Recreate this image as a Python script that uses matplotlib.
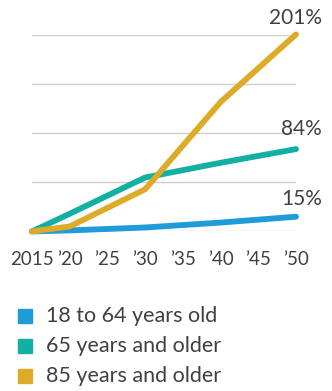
import matplotlib.pyplot as plt
from matplotlib.patches import Rectangle

plt.rcParams['font.family'] = ['Lato', 'DejaVu Sans']

# Percent change in population since 2015
years = [2015, 2020, 2030, 2040, 2050]
age_18_64 = [0, 1, 4, 9, 15]
age_65_up = [0, 18, 55, 70, 84]
age_85_up = [0, 5, 43, 132, 201]

series = [age_18_64, age_65_up, age_85_up]
labels = ["18 to 64 years old", "65 years and older", "85 years and older"]
colors = ["#1f9bd8", "#12b0a3", "#ddab27"]
end_labels = ["15%", "84%", "201%"]

tick_years = [2015, 2020, 2025, 2030, 2035, 2040, 2045, 2050]
tick_labels = ["2015", "\u201920", "\u201925", "\u201930", "\u201935", "\u201940", "\u201945", "\u201950"]
grid_vals = [0, 50, 100, 150, 200]

text_col = "#404040"

fig = plt.figure(figsize=(3.32, 3.91), dpi=100)
ax = fig.add_axes([32 / 332, 159.6 / 391, 264 / 332, 196 / 391])

for g in grid_vals:
    ax.axhline(g, color="#cfcfcf", lw=1, zorder=1)

for vals, c in zip(series, colors):
    ax.plot(years, vals, color=c, lw=4.2, solid_capstyle="round",
            solid_joinstyle="round", clip_on=False, zorder=3)

# offsets in pixels -> points (72/100)
offsets = [(26, 11.7), (26, 13.7), (26, 10.7)]
for vals, txt, off in zip(series, end_labels, offsets):
    ax.annotate(txt, (years[-1], vals[-1]),
                xytext=(off[0] * 0.72, off[1] * 0.72), textcoords="offset points",
                ha="right", va="baseline", fontsize=15, color=text_col,
                annotation_clip=False)

ax.set_xlim(2015, 2050)
ax.set_ylim(0, 200)
ax.set_xticks(tick_years)
ax.set_xticklabels(tick_labels, fontsize=13.5, color=text_col)
ax.tick_params(axis="x", length=0, pad=14)
ax.set_yticks([])
for s in ax.spines.values():
    s.set_visible(False)
ax.patch.set_alpha(0)

# legend drawn by hand
for i, (lab, c) in enumerate(zip(labels, colors)):
    yc = 1 - (316 + 30 * i) / 391
    fig.patches.append(Rectangle((17.5 / 332, yc - 7 / 391), 14 / 332, 14 / 391,
                                 transform=fig.transFigure, color=c))
    fig.text(46 / 332, yc, lab, fontsize=15.5, color=text_col, va="center")

fig.savefig("out.png", dpi=100)
